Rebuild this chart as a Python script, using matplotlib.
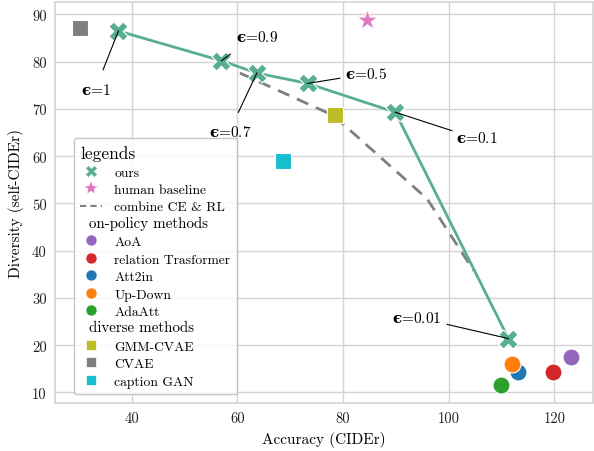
import matplotlib
matplotlib.use("Agg")
import matplotlib.pyplot as plt
from matplotlib.lines import Line2D
from matplotlib.legend_handler import HandlerBase
from matplotlib.text import Text

plt.rcParams['font.family'] = ['cmr10', 'DejaVu Serif']
plt.rcParams['mathtext.fontset'] = 'custom'
plt.rcParams['mathtext.rm'] = 'cmr10'
plt.rcParams['mathtext.bf'] = 'DejaVu Serif:bold'
plt.rcParams['axes.formatter.use_mathtext'] = False

# ---- data ----
ours_eps = ['1', '0.9', '0.7', '0.5', '0.1', '0.01']
ours_acc = [37.5, 57.0, 63.7, 73.3, 89.9, 111.3]
ours_div = [86.5, 80.2, 77.6, 75.4, 69.3, 21.4]

combine_acc = [60.5, 78.2, 95.9, 104.7]
combine_div = [77.6, 68.6, 51.0, 35.8]

human_acc = [84.5]
human_div = [88.9]

onpolicy_names = ['AoA', 'relation Trasformer', 'Att2in', 'Up-Down', 'AdaAtt']
onpolicy_acc = [123.1, 119.7, 113.2, 112.0, 109.9]
onpolicy_div = [17.4, 14.4, 14.4, 16.0, 11.5]

diverse_names = ['GMM-CVAE', 'CVAE', 'caption GAN']
diverse_acc = [78.5, 30.2, 68.7]
diverse_div = [68.7, 87.2, 58.9]

xticks = [40, 60, 80, 100, 120]
yticks = [10, 20, 30, 40, 50, 60, 70, 80, 90]

# ---- styles ----
ours_color = '#58ae91'
onpolicy_colors = ['#9467bd', '#d62728', '#1f77b4', '#ff7f0e', '#2ca02c']
diverse_colors = ['#bcbd22', '#7f7f7f', '#17becf']
human_color = '#e377c2'
grid_c = '#d4d4d4'

# label text position / line end (data coords) for each epsilon annotation
ann_text = [(33.2, 74.1), (63.7, 85.3), (58.6, 65.2), (84.4, 77.4), (105.4, 64.0), (94.0, 25.8)]
ann_line = [(34.6, 78.3), (58.7, 81.6), (60.2, 69.3), (79.4, 76.5), (100.6, 65.4), (99.7, 24.4)]

fig = plt.figure(figsize=(5.94, 4.52), dpi=100)
ax = fig.add_axes([55 / 594, 1 - 404.3 / 452, (593 - 55) / 594, (404.3 - 2.7) / 452])

ax.set_facecolor('white')
ax.grid(True, color=grid_c, lw=1.0)
ax.set_axisbelow(True)
for s in ax.spines.values():
    s.set_color(grid_c)
    s.set_linewidth(1.2)
ax.tick_params(length=0, labelsize=10.5, pad=6, colors='#222222')

ax.plot(combine_acc, combine_div, ls=(0, (4.5, 3)), color='#7f7f7f', lw=2.0, zorder=2)
ax.plot(ours_acc, ours_div, color=ours_color, lw=2.0, zorder=3)
ax.scatter(ours_acc, ours_div, marker='X', s=190, color=ours_color, edgecolor='white', linewidth=0.8, zorder=4)

ax.scatter(human_acc, human_div, marker='*', s=230, color=human_color, edgecolor='white', linewidth=0.5, zorder=4)
for a, d, c in zip(onpolicy_acc, onpolicy_div, onpolicy_colors):
    ax.scatter([a], [d], marker='o', s=150, color=c, edgecolor='white', linewidth=0.8, zorder=4)
for a, d, c in zip(diverse_acc, diverse_div, diverse_colors):
    ax.scatter([a], [d], marker='s', s=140, color=c, edgecolor='white', linewidth=0.8, zorder=4)

for e, a, d, (tx, ty), (lx, ly) in zip(ours_eps, ours_acc, ours_div, ann_text, ann_line):
    ax.plot([a, lx], [d, ly], color='black', lw=0.8, zorder=5)
    ax.text(tx, ty, '$\\mathbf{\u03f5}$=' + e, fontsize=11, ha='center', va='center', zorder=6)

ax.set_xlim(25.5, 127.3)
ax.set_ylim(7.7, 92.7)
ax.set_xticks(xticks)
ax.set_yticks(yticks)
ax.set_xlabel('Accuracy (CIDEr)', fontsize=11, labelpad=4)
ax.set_ylabel('Diversity (self-CIDEr)', fontsize=11, labelpad=6)


class SubtitleHandler(HandlerBase):
    def create_artists(self, legend, orig_handle, xdescent, ydescent,
                       width, height, fontsize, trans):
        t = Text(-xdescent + 6, height / 2 - ydescent, orig_handle.get_label(),
                 fontsize=10.8, ha='left', va='center', transform=trans)
        return [t]


class Sub(Line2D):
    pass


handles = [
    Line2D([], [], marker='X', ls='', color=ours_color, markersize=9, markeredgecolor='white', markeredgewidth=0.5),
    Line2D([], [], marker='*', ls='', color=human_color, markersize=10, markeredgecolor='white', markeredgewidth=0.3),
    Line2D([], [], ls=(0, (3, 2)), color='#7f7f7f', lw=1.5),
    Sub([], [], label='on-policy methods'),
]
labels = ['ours', 'human baseline', 'combine CE & RL', '']
for n, c in zip(onpolicy_names, onpolicy_colors):
    handles.append(Line2D([], [], marker='o', ls='', color=c, markersize=8, markeredgecolor='white', markeredgewidth=0.5))
    labels.append(n)
handles.append(Sub([], [], label='diverse methods'))
labels.append('')
for n, c in zip(diverse_names, diverse_colors):
    handles.append(Line2D([], [], marker='s', ls='', color=c, markersize=7, markeredgecolor='white', markeredgewidth=0.5))
    labels.append(n)

leg = ax.legend(handles, labels, loc='lower left', fontsize=9.8, title='legends',
                title_fontsize=12.5, alignment='left', labelspacing=0.36,
                handlelength=1.6, handletextpad=0.9, borderpad=0.5,
                frameon=True, fancybox=True, framealpha=0.85, edgecolor='#bbbbbb',
                handler_map={Sub: SubtitleHandler()}, bbox_to_anchor=(0.022, 0.005))
leg.get_frame().set_linewidth(1.0)

fig.savefig('out.png', dpi=100)
